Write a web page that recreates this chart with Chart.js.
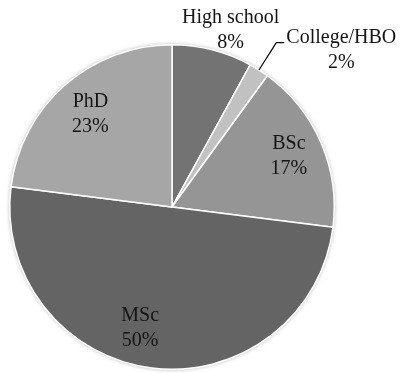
<!DOCTYPE html>
<html>
<head>
<meta charset="utf-8">
<script src="https://cdn.jsdelivr.net/npm/chart.js@4/dist/chart.umd.min.js"></script>
<style>
  html, body { margin: 0; padding: 0; background: #ffffff; }
  #wrap { width: 401px; height: 373px; }
</style>
</head>
<body>
<div id="wrap"><canvas id="c" width="401" height="373"></canvas></div>
<script>
// Highest completed education level
const categories = ['High school', 'College/HBO', 'BSc', 'MSc', 'PhD'];
const shares = [8, 2, 17, 50, 23];
const sliceColors = ['#737373', '#c1c1c1', '#959595', '#646464', '#a6a6a6'];

// Label placement per slice: distance from centre as a fraction of the radius,
// a small angular nudge (degrees), and whether a leader line is drawn.
const labelPlacement = [
  { fraction: 1.145, shift: 4,   leader: false },
  { fraction: 1.2,   shift: 0,   leader: true  },
  { fraction: 0.785, shift: 0,   leader: false },
  { fraction: 0.773, shift: 7.5, leader: false },
  { fraction: 0.76,  shift: 0,   leader: false }
];

const FONT = '20px "Liberation Serif", "Times New Roman", serif';
const LINE_GAP = 25;

const softEdge = {
  id: 'softEdge',
  beforeDatasetsDraw(chart) {
    const arc = chart.getDatasetMeta(0).data[0];
    if (!arc) return;
    const ctx = chart.ctx;
    ctx.save();
    ctx.shadowColor = 'rgba(0,0,0,0.35)';
    ctx.shadowBlur = 4;
    ctx.beginPath();
    ctx.arc(arc.x, arc.y, arc.outerRadius, 0, Math.PI * 2);
    ctx.fillStyle = '#ffffff';
    ctx.fill();
    ctx.restore();
  }
};

const sliceLabels = {
  id: 'sliceLabels',
  afterDatasetsDraw(chart) {
    const ctx = chart.ctx;
    const meta = chart.getDatasetMeta(0);
    const total = shares.reduce((a, b) => a + b, 0);
    ctx.save();
    ctx.font = FONT;
    ctx.fillStyle = '#141414';
    ctx.textAlign = 'center';
    ctx.textBaseline = 'middle';
    meta.data.forEach((arc, i) => {
      const p = labelPlacement[i];
      const mid = (arc.startAngle + arc.endAngle) / 2;
      const pct = Math.round(shares[i] / total * 100) + '%';
      const name = categories[i];
      if (p.leader) {
        const sx = arc.x + Math.cos(mid) * arc.outerRadius;
        const sy = arc.y + Math.sin(mid) * arc.outerRadius;
        const ex = arc.x + Math.cos(mid) * arc.outerRadius * p.fraction;
        const ey = arc.y + Math.sin(mid) * arc.outerRadius * p.fraction;
        ctx.beginPath();
        ctx.strokeStyle = '#000000';
        ctx.lineWidth = 1.2;
        ctx.moveTo(sx, sy);
        ctx.lineTo(ex, ey);
        ctx.lineTo(ex + 8, ey);
        ctx.stroke();
        const w = ctx.measureText(name).width;
        const cx = ex + 10 + w / 2;
        ctx.fillText(name, cx, ey - 5);
        ctx.fillText(pct, cx, ey - 5 + LINE_GAP);
      } else {
        const a = mid + p.shift * Math.PI / 180;
        const cx = arc.x + Math.cos(a) * arc.outerRadius * p.fraction;
        const cy = arc.y + Math.sin(a) * arc.outerRadius * p.fraction;
        ctx.fillText(name, cx, cy - LINE_GAP / 2);
        ctx.fillText(pct, cx, cy + LINE_GAP / 2);
      }
    });
    ctx.restore();
  }
};

new Chart(document.getElementById('c'), {
  type: 'pie',
  data: {
    labels: categories,
    datasets: [{
      data: shares,
      backgroundColor: sliceColors,
      borderColor: '#ffffff',
      borderWidth: 1.5
    }]
  },
  options: {
    responsive: false,
    animation: false,
    layout: { padding: { left: 9, right: 66, top: 44, bottom: 3 } },
    plugins: {
      legend: { display: false },
      tooltip: { enabled: false }
    }
  },
  plugins: [softEdge, sliceLabels]
});
</script>
</body>
</html>
